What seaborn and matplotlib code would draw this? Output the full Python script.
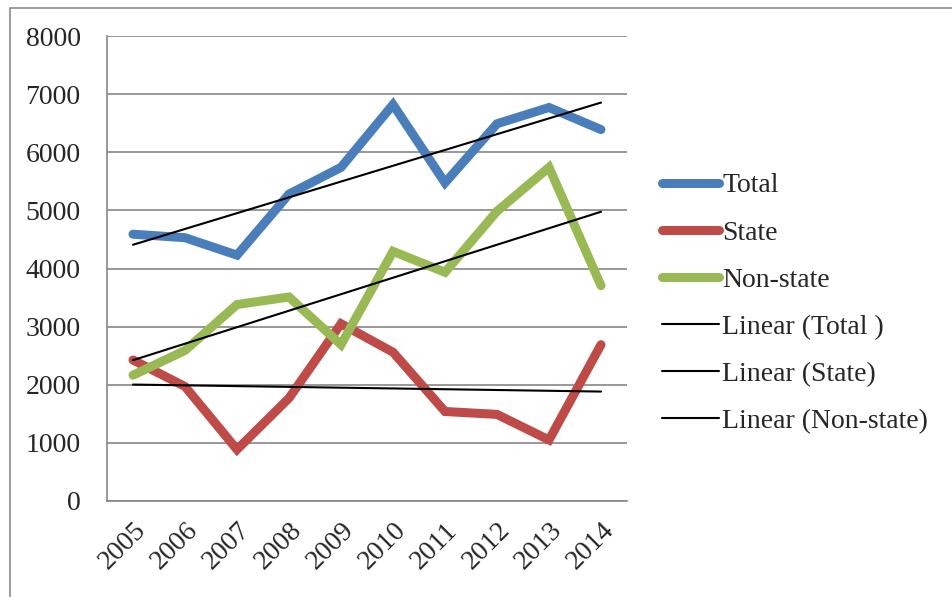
import numpy as np
import pandas as pd
import matplotlib
matplotlib.use("Agg")
import matplotlib.pyplot as plt
import seaborn as sns
from matplotlib.lines import Line2D
from matplotlib.patches import Rectangle

years = ["2005", "2006", "2007", "2008", "2009", "2010", "2011", "2012", "2013", "2014"]
total = [4590, 4530, 4230, 5280, 5740, 6820, 5475, 6490, 6770, 6390]
state = [2425, 1970, 885, 1770, 3050, 2560, 1540, 1490, 1050, 2690]
non_state = [2165, 2590, 3380, 3510, 2690, 4295, 3935, 4985, 5740, 3705]
series_names = ["Total", "State", "Non-state"]
trend_names = ["Linear (Total )", "Linear (State)", "Linear (Non-state)"]
yticks = [0, 1000, 2000, 3000, 4000, 5000, 6000, 7000, 8000]

colors = {"Total": "#4A7EBB", "State": "#BE4B48", "Non-state": "#98B954"}

sns.set_theme(style="white")
plt.rcParams['font.family'] = ['Liberation Serif', 'DejaVu Serif']
FS = 20

x_idx = np.arange(len(years))
df = pd.DataFrame({
    "x": np.tile(x_idx, 3),
    "value": total + state + non_state,
    "series": np.repeat(series_names, len(years)),
})

fig = plt.figure(figsize=(9.52, 5.97), dpi=100)
fig.patches.append(Rectangle((10 / 952, -0.1), 1.2, (597 - 8) / 597 + 0.1,
                             transform=fig.transFigure, fill=False,
                             edgecolor="#8C8C8C", linewidth=1.2))
ax = fig.add_axes([107 / 952, (597 - 501) / 597, (627 - 107) / 952, (501 - 36) / 597])

sns.lineplot(data=df, x="x", y="value", hue="series", palette=colors,
             hue_order=series_names, linewidth=6.5, legend=False, ax=ax,
             solid_capstyle="round", solid_joinstyle="miter")

for name in series_names:
    sub = df[df["series"] == name]
    sns.regplot(data=sub, x="x", y="value", ci=None, scatter=False, ax=ax,
                line_kws=dict(color="black", linewidth=1.5))

ax.set_xlim(-0.5, len(years) - 0.5)
ax.set_ylim(0, 8000)
ax.set_yticks(yticks)
ax.set_yticklabels([str(v) for v in yticks], fontsize=FS)
ax.set_xticks(np.arange(-0.5, len(years), 1.0))
ax.set_xticklabels([])
ax.set_xticks(x_idx, minor=True)
ax.set_xticklabels(years, minor=True, rotation=45, ha="right", rotation_mode="anchor",
                   fontsize=FS)
ax.tick_params(axis="x", which="minor", length=0, pad=12)
ax.tick_params(axis="x", which="major", length=6, width=1.2, color="#868686", direction="out")
ax.tick_params(axis="y", length=6, width=1.2, color="#868686", direction="out", pad=13)
ax.set_xlabel("")
ax.set_ylabel("")
ax.grid(axis="y", color="#868686", linewidth=1.2)
ax.set_axisbelow(True)
for s in ["top", "right"]:
    ax.spines[s].set_visible(False)
for s in ["left", "bottom"]:
    ax.spines[s].set_color("#868686")
    ax.spines[s].set_linewidth(1.2)

handles = [Line2D([], [], color=colors[n], linewidth=6.5, solid_capstyle="round") for n in series_names]
handles += [Line2D([], [], color="black", linewidth=1.5) for _ in trend_names]
fig.legend(handles, series_names + trend_names, loc="upper left",
           bbox_to_anchor=(662 / 952, (597 - 173) / 597), frameon=False,
           fontsize=FS, handlelength=2.05, handletextpad=0.12, labelspacing=0.78,
           borderaxespad=0, borderpad=0)

fig.savefig("out.png", dpi=100)
